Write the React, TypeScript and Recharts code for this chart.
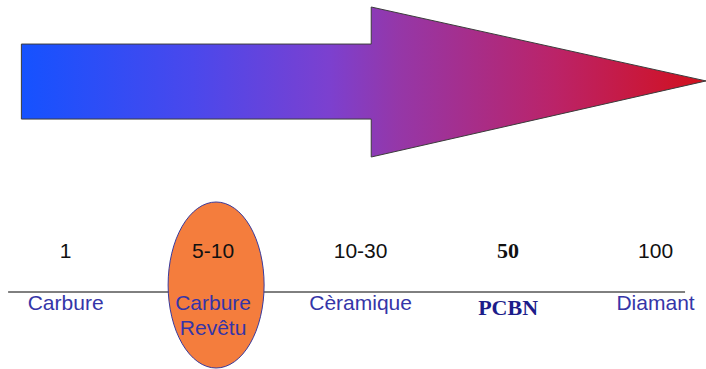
import { ComposedChart, XAxis, YAxis, Scatter, ReferenceArea, ReferenceLine } from "recharts";

// productivity ratio for each cutting material, left to right
const ratios = ["1", "5-10", "10-30", "50", "100"];
const tools = ["Carbure", "Carbure Revêtu", "Cèramique", "PCBN", "Diamant"];
const highlighted = ["Carbure Revêtu"];
const serifTools = ["PCBN"];

const WIDTH = 706;
const HEIGHT = 369;
const X_MIN = -0.445;
const X_MAX = 4.342;
const AXIS_Y = 292;

const rows = tools.map((tool, i) => ({ idx: i, level: AXIS_Y, ratio: ratios[i], tool }));
const highlightRows = rows.filter((r) => highlighted.includes(r.tool));

const SANS = "'Liberation Sans', Arial, sans-serif";
const SERIF = "'Liberation Serif', 'Times New Roman', serif";

function Arrow(props: any) {
    const { x, y, width, height } = props;
    const headX = x + width * 0.511;
    const shaftTop = y + height * 0.247;
    const shaftBottom = y + height * 0.747;
    const tipY = y + height * 0.493;
    const pts = [
        [x, shaftTop],
        [headX, shaftTop],
        [headX, y],
        [x + width, tipY],
        [headX, y + height],
        [headX, shaftBottom],
        [x, shaftBottom],
    ].map((p) => p.join(",")).join(" ");
    return (
        <g>
            <defs>
                <linearGradient id="arrow-fill" x1="0" y1="0" x2="1" y2="0">
                    <stop offset="0%" stopColor="#1552ff" />
                    <stop offset="25%" stopColor="#4a48ec" />
                    <stop offset="45%" stopColor="#7c40cf" />
                    <stop offset="55%" stopColor="#9537a8" />
                    <stop offset="78%" stopColor="#bb2368" />
                    <stop offset="100%" stopColor="#d2101c" />
                </linearGradient>
            </defs>
            <polygon points={pts} fill="url(#arrow-fill)" stroke="#3c3c3c" strokeWidth={1} />
        </g>
    );
}

function Highlight(props: any) {
    const { cx, cy } = props;
    return <ellipse cx={cx + 3} cy={cy - 7} rx={48} ry={83} fill="#f47d3d" stroke="#3a3a9c" strokeWidth={1} />;
}

function Label(props: any) {
    const { cx, cy, payload } = props;
    const serif = serifTools.includes(payload.tool);
    const words = serif ? [payload.tool] : payload.tool.split(" ");
    const font = serif ? SERIF : SANS;
    const size = serif ? 22 : 21;
    return (
        <g>
            <text
                x={cx}
                y={cy - 42}
                textAnchor="middle"
                dominantBaseline="central"
                fontFamily={font}
                fontWeight={serif ? 700 : 400}
                fontSize={size}
                fill="#111"
            >
                {payload.ratio}
            </text>
            {words.map((w: string, i: number) => (
                <text
                    key={w}
                    x={cx}
                    y={cy + (serif ? 15 : 10) + i * 25}
                    textAnchor="middle"
                    dominantBaseline="central"
                    fontFamily={font}
                    fontWeight={serif ? 700 : 400}
                    fontSize={size}
                    fill={serif ? "#1c1c8a" : "#3535a8"}
                >
                    {w}
                </text>
            ))}
        </g>
    );
}

export default function App() {
    return (
        <div style={{ position: "absolute", left: 0, top: 0, width: WIDTH, height: HEIGHT, background: "#fff" }}>
            <ComposedChart width={WIDTH} height={HEIGHT} data={rows} margin={{ top: 0, right: 0, bottom: 0, left: 0 }}>
                <XAxis type="number" dataKey="idx" domain={[X_MIN, X_MAX]} hide allowDataOverflow />
                <YAxis type="number" dataKey="level" domain={[0, HEIGHT]} reversed hide allowDataOverflow />
                <ReferenceArea
                    x1={-0.3}
                    x2={X_MAX}
                    y1={7}
                    y2={157}
                    ifOverflow="visible"
                    shape={(p: any) => <Arrow {...p} />}
                />
                <Scatter data={highlightRows} dataKey="level" isAnimationActive={false} shape={(p: any) => <Highlight {...p} />} />
                <ReferenceLine
                    segment={[{ x: -0.39, y: AXIS_Y }, { x: 4.2, y: AXIS_Y }]}
                    stroke="#000"
                    strokeWidth={1}
                    ifOverflow="visible"
                />
                <Scatter data={rows} dataKey="level" isAnimationActive={false} shape={(p: any) => <Label {...p} />} />
            </ComposedChart>
        </div>
    );
}
